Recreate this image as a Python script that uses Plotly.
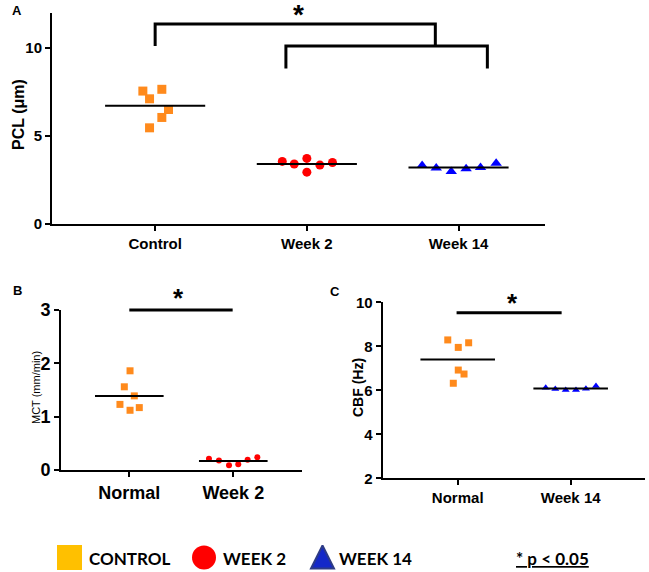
import numpy as np
import plotly.graph_objects as go

# ---------------- data ----------------
A_CATS = ["Control", "Week 2", "Week 14"]
A_CONTROL = [7.56, 7.66, 7.12, 6.51, 6.06, 5.47]
A_WEEK2 = [3.56, 3.41, 3.73, 2.95, 3.35, 3.50]
A_WEEK14 = [3.33, 3.18, 2.99, 3.14, 3.22, 3.45]
A_YTICKS = [0, 5, 10]

B_CATS = ["Normal", "Week 2"]
B_NORMAL = [1.86, 1.56, 1.39, 1.23, 1.17, 1.12]
B_WEEK2 = [0.21, 0.18, 0.09, 0.11, 0.19, 0.24]
B_YTICKS = [0, 1, 2, 3]

C_CATS = ["Normal", "Week 14"]
C_NORMAL = [8.29, 8.16, 7.95, 6.92, 6.74, 6.32]
C_WEEK14 = [6.12, 6.06, 6.01, 6.01, 6.07, 6.19]
C_YTICKS = [2, 4, 6, 8, 10]

LEGEND_LABELS = ["CONTROL", "WEEK 2", "WEEK 14"]
SIG_LABEL = "* p < 0.05"

# ---------------- layout / style (positions, not data) ----------------
W, H = 649, 572
FONT = "Liberation Sans, Arial, sans-serif"
ORANGE = "#FF8A1C"
RED = "#FF0000"
BLUE = "#0000FF"

# horizontal scatter offsets of the dots inside each category
A_CONTROL_DX = [-0.081, 0.044, -0.037, 0.088, 0.044, -0.037]
A_WEEK2_DX = [-0.162, -0.083, 0.0, 0.0, 0.086, 0.169]
A_WEEK14_DX = [-0.24, -0.147, -0.048, 0.05, 0.145, 0.248]
B_NORMAL_DX = [0.007, -0.048, 0.048, -0.09, 0.096, 0.007]
B_WEEK2_DX = [-0.234, -0.138, -0.041, 0.048, 0.138, 0.231]
C_NORMAL_DX = [-0.088, 0.097, 0.005, 0.005, 0.056, -0.039]
C_WEEK14_DX = [-0.221, -0.136, -0.044, 0.047, 0.135, 0.224]
MEAN_HALF = 0.33


def px_x(x):
    return x / W


def px_y(y):
    return 1 - y / H


fig = go.Figure()


def add_group(values, dx, cat, axis, symbol, color, size):
    xs = [cat + d for d in dx]
    fig.add_trace(go.Scatter(
        x=xs, y=values, mode="markers", xaxis="x" + axis, yaxis="y" + axis,
        marker=dict(symbol=symbol, color=color, size=size, opacity=1, line=dict(width=0)),
        showlegend=False, hoverinfo="y", cliponaxis=False))
    m = float(np.mean(values))
    fig.add_trace(go.Scatter(
        x=[cat - MEAN_HALF, cat + MEAN_HALF], y=[m, m], mode="lines",
        xaxis="x" + axis, yaxis="y" + axis,
        line=dict(color="black", width=2), showlegend=False, hoverinfo="skip"))


# Panel A  (axis suffix "")
add_group(A_CONTROL, A_CONTROL_DX, 0, "", "square", ORANGE, 9)
add_group(A_WEEK2, A_WEEK2_DX, 1, "", "circle", RED, 9)
add_group(A_WEEK14, A_WEEK14_DX, 2, "", "triangle-up", BLUE, 10)
# Panel B
add_group(B_NORMAL, B_NORMAL_DX, 0, "2", "square", ORANGE, 7)
add_group(B_WEEK2, B_WEEK2_DX, 1, "2", "circle", RED, 6)
# Panel C
add_group(C_NORMAL, C_NORMAL_DX, 0, "3", "square", ORANGE, 7)
add_group(C_WEEK14, C_WEEK14_DX, 1, "3", "triangle-up", BLUE, 7)

# legend swatches on a hidden pixel-space axis (bottom strip only)
LEG_TOP = 515
LEG_X = [69.5, 204, 322.5]
LEG_Y = [557.5, 557.5, 545.5]
fig.add_trace(go.Scatter(
    x=LEG_X, y=LEG_Y, mode="markers", xaxis="x4", yaxis="y4",
    marker=dict(symbol=["square", "circle", "arrow-up"],
                color=["#FFC000", "#FF0000", "#1428C8"],
                size=[25, 24, 23], opacity=1,
                line=dict(color=["#FFC000", "#FF0000", "#2E3C86"], width=[0, 0, 2])),
    showlegend=False, hoverinfo="skip", cliponaxis=False))


def ax(domain, rng, tickvals, ticktext, size, anchor):
    return dict(domain=domain, range=rng, tickvals=tickvals, ticktext=ticktext,
                showline=True, linecolor="black", linewidth=2, ticks="outside",
                ticklen=5, tickwidth=2, tickcolor="black", showgrid=False,
                zeroline=False, anchor=anchor, fixedrange=True, automargin=False,
                tickfont=dict(family=FONT, size=size, color="black", weight="bold"))


layout = dict(
    width=W, height=H, margin=dict(l=0, r=0, t=0, b=0, pad=0, autoexpand=False),
    paper_bgcolor="white", plot_bgcolor="rgba(0,0,0,0)", showlegend=False,
    xaxis=ax([px_x(52), px_x(545)], [-0.68, 2.57], [0, 1, 2], A_CATS, 15, "y"),
    yaxis=ax([px_y(224), px_y(13)], [0, 12], A_YTICKS, [str(v) for v in A_YTICKS], 15, "x"),
    xaxis2=ax([px_x(61), px_x(301.7)], [-0.657, 1.658], [0, 1], B_CATS, 18, "y2"),
    yaxis2=ax([px_y(470), px_y(310)], [0, 3], B_YTICKS, [str(v) for v in B_YTICKS], 18, "x2"),
    xaxis3=ax([px_x(382.7), px_x(645)], [-0.664, 1.658], [0, 1], C_CATS, 15, "y3"),
    yaxis3=ax([px_y(478.3), px_y(302.3)], [2, 10], C_YTICKS, [str(v) for v in C_YTICKS], 15, "x3"),
    xaxis4=dict(domain=[0, 1], range=[0, W], visible=False, anchor="y4", fixedrange=True),
    yaxis4=dict(domain=[0, px_y(LEG_TOP)], range=[H, LEG_TOP], visible=False,
                anchor="x4", fixedrange=True),
)

# significance markers
BLK = dict(color="black", width=3)
shapes = [
    # Panel A brackets
    dict(type="path", xref="x", yref="y", line=BLK,
         path="M 0 10.13 L 0 11.37 L 1.847 11.37 L 1.847 10.13"),
    dict(type="path", xref="x", yref="y", line=BLK,
         path="M 0.862 8.84 L 0.862 10.13 L 2.19 10.13 L 2.19 8.84"),
    # Panel B (at the top edge of the axis, so placed in paper space to avoid clipping)
    dict(type="line", xref="x2", yref="paper", x0=0, x1=0.994,
         y0=px_y(310), y1=px_y(310), line=BLK),
    # Panel C
    dict(type="line", xref="x3", yref="y3", x0=-0.01, x1=0.92, y0=9.53, y1=9.53, line=BLK),
]
layout["shapes"] = shapes


def ann(text, x, y, size, bold=True, angle=0, xanchor="center", family=FONT):
    return dict(text=text, x=px_x(x), y=px_y(y), xref="paper", yref="paper",
                showarrow=False, textangle=angle, xanchor=xanchor, yanchor="middle",
                font=dict(family=family, size=size, color="black",
                          weight="bold" if bold else "normal"))


LEG_FONT = "Lato, Open Sans, sans-serif"
annotations = [
    ann("A", 17, 10, 13),
    ann("B", 17, 290, 13),
    ann("C", 335, 291, 13),
    ann("PCL (μm)", 18, 115, 16, angle=-90),
    ann("MCT (mm/min)", 36, 388, 11, bold=False, angle=-90),
    ann("CBF (Hz)", 358, 388, 14, angle=-90),
    ann("*", 298, 14, 28),
    ann("*", 178, 298, 26),
    ann("*", 512, 303, 26),
    ann(LEGEND_LABELS[0], 87, 558, 17, xanchor="left", family=LEG_FONT),
    ann(LEGEND_LABELS[1], 221, 558, 17, xanchor="left", family=LEG_FONT),
    ann(LEGEND_LABELS[2], 337, 558, 17, xanchor="left", family=LEG_FONT),
    ann("<u>" + SIG_LABEL + "</u>", 514, 558, 17, xanchor="left", family=LEG_FONT),
]
layout["annotations"] = annotations

fig.update_layout(**layout)
fig.write_html("out.html", config={"displayModeBar": False},
               post_script="document.body.style.margin='0';document.body.style.padding='0';")
